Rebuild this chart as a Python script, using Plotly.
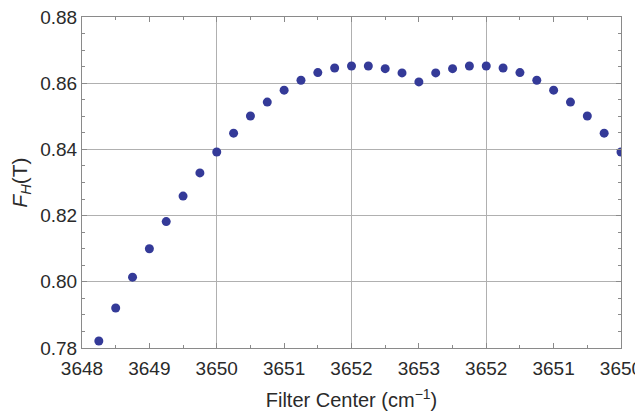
import plotly.graph_objects as go

# data
x_pos = [3648.25, 3648.5, 3648.75, 3649.0, 3649.25, 3649.5, 3649.75, 3650.0,
         3650.25, 3650.5, 3650.75, 3651.0, 3651.25, 3651.5, 3651.75, 3652.0,
         3652.25, 3652.5, 3652.75, 3653.0, 3653.25, 3653.5, 3653.75, 3654.0,
         3654.25, 3654.5, 3654.75, 3655.0, 3655.25, 3655.5, 3655.75, 3656.0]
fh = [0.7821, 0.7921, 0.8014, 0.8100, 0.8182, 0.8259, 0.8329, 0.8392,
      0.8449, 0.8501, 0.8543, 0.8579, 0.8609, 0.8632, 0.8646, 0.8652,
      0.8652, 0.8644, 0.8631, 0.8604, 0.8631, 0.8644, 0.8652, 0.8652,
      0.8646, 0.8632, 0.8609, 0.8579, 0.8543, 0.8501, 0.8449, 0.8392]
tick_vals = [3648, 3649, 3650, 3651, 3652, 3653, 3654, 3655, 3656]
tick_text = ["3648", "3649", "3650", "3651", "3652", "3653", "3652", "3651", "3650"]
grid_x = [3650, 3652, 3654]
y_ticks = [0.78, 0.80, 0.82, 0.84, 0.86, 0.88]

FONT = "Liberation Sans, Arial, sans-serif"
AXC = "#8a8a8a"
GRIDC = "#b0b0b0"

fig = go.Figure()
fig.add_trace(go.Scatter(
    x=x_pos, y=fh, mode="markers",
    marker=dict(color="#343a98", size=9, line=dict(width=0)),
    showlegend=False, xaxis="x", yaxis="y"))
# invisible trace to anchor grid axis
fig.add_trace(go.Scatter(x=[tick_vals[0], tick_vals[-1]], y=[y_ticks[0], y_ticks[-1]],
                         mode="markers", marker=dict(opacity=0), showlegend=False,
                         hoverinfo="skip", xaxis="x2", yaxis="y"))

# page body has an 8px margin, so the figure is placed at (8, 8)
fig.update_layout(
    width=635, height=403,
    margin=dict(l=74, r=22, t=9, b=63),
    paper_bgcolor="white", plot_bgcolor="white",
    font=dict(family=FONT, size=19, color="#2a2a2a"),
    xaxis=dict(
        range=[tick_vals[0], tick_vals[-1]], automargin=False,
        tickvals=tick_vals, ticktext=tick_text, ticklabeloverflow="allow",
        showgrid=False, zeroline=False,
        showline=True, linecolor=AXC, linewidth=1, mirror="ticks",
        ticks="inside", ticklen=5, tickcolor=AXC,
        minor=dict(dtick=0.5, ticks="inside", ticklen=3, tickcolor=AXC, showgrid=False),
        tickfont=dict(size=19), ticklabelstandoff=3,
        title=dict(text="Filter Center (cm<sup>−1</sup>)", font=dict(size=20), standoff=15),
    ),
    xaxis2=dict(
        overlaying="x", matches="x", range=[tick_vals[0], tick_vals[-1]],
        tickvals=grid_x, showgrid=True, gridcolor=GRIDC, gridwidth=1,
        showticklabels=False, ticks="", zeroline=False, showline=False, automargin=False,
    ),
    yaxis=dict(
        range=[y_ticks[0], y_ticks[-1]], automargin=False,
        tickvals=y_ticks, ticktext=[f"{v:.2f}" for v in y_ticks], ticklabeloverflow="allow",
        showgrid=True, gridcolor=GRIDC, gridwidth=1, zeroline=False,
        showline=True, linecolor=AXC, linewidth=1, mirror="ticks",
        ticks="inside", ticklen=5, tickcolor=AXC,
        minor=dict(dtick=0.005, ticks="inside", ticklen=3, tickcolor=AXC, showgrid=False),
        tickfont=dict(size=19),
        title=dict(text="<i>F</i><sub><i>H</i></sub>(T)", font=dict(size=21), standoff=8),
    ),
)

fig.write_html("out.html")
